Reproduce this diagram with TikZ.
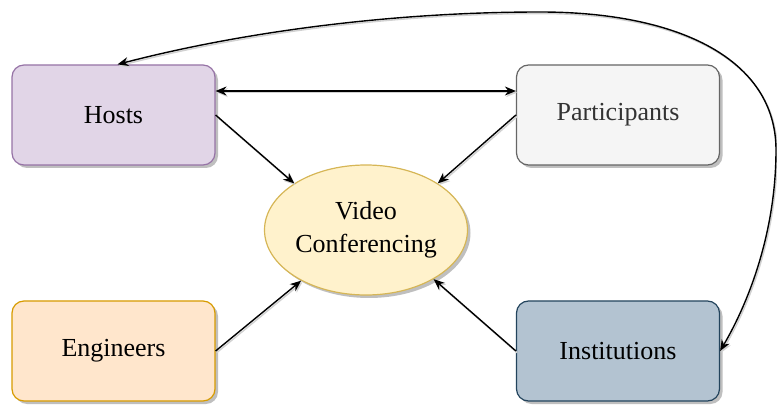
\documentclass[tikz,border=0pt]{standalone}
\usepackage{fontspec}
\setmainfont{Liberation Serif}
\usetikzlibrary{arrows.meta,shapes.geometric,shadows}
\definecolor{hostsF}{HTML}{E1D5E7}
\definecolor{hostsD}{HTML}{9673A6}
\definecolor{partF}{HTML}{F5F5F5}
\definecolor{partD}{HTML}{666666}
\definecolor{partT}{HTML}{333333}
\definecolor{engF}{HTML}{FFE6CC}
\definecolor{engD}{HTML}{D79B00}
\definecolor{instF}{HTML}{B3C3D1}
\definecolor{instD}{HTML}{23445D}
\definecolor{vcF}{HTML}{FFF2CC}
\definecolor{vcD}{HTML}{D6B656}
\begin{document}
\begin{tikzpicture}[x=1pt,y=-1pt,
  shade/.style={drop shadow={shadow xshift=3pt, shadow yshift=-3pt, opacity=0.25, fill=black}},
  box/.style={draw, rounded corners=12pt, line width=1.2pt, minimum width=203pt, minimum height=100pt,
    inner sep=0pt, font=\fontsize{26}{31}\selectfont, shade},
  vcnode/.style={ellipse, draw=vcD, fill=vcF, line width=1.2pt, minimum width=203pt, minimum height=130pt,
    inner sep=0pt, align=center, font=\fontsize{26}{33}\selectfont, shade},
  tip/.style={-{Stealth[length=11pt,width=9pt]}},
  both/.style={{Stealth[length=11pt,width=9pt]}-{Stealth[length=11pt,width=9pt]}},
  conn/.style={line width=1.4pt, preaction={draw=black!18, line width=1.4pt, transform canvas={shift={(1.2pt,-1.6pt)}}}}
]
\useasboundingbox (0,0) rectangle (777,406);

\node[box, draw=hostsD, fill=hostsF] (hosts) at (113.5,115) {Hosts};
\node[box, draw=partD, fill=partF, text=partT] (part) at (618,115) {Participants};
\node[box, draw=engD, fill=engF] (eng) at (113.5,351) {Engineers};
\node[box, draw=instD, fill=instF] (inst) at (618,351) {Institutions};
\node[vcnode] (vc) at (366,230) {Video\\Conferencing};

\draw[conn, both] ([yshift=24pt]hosts.east) -- ([yshift=24pt]part.west);
\draw[conn, tip] (hosts.east) -- (vc.147);
\draw[conn, tip] (part.west) -- (vc.33);
\draw[conn, tip] (eng.east) -- (vc.218);
\draw[conn, tip] (inst.west) -- (vc.324);

\draw[conn, both]
  ([xshift=4pt]hosts.north) .. controls (250,30) and (400,12) .. (540,12)
  .. controls (680,12) and (776,60) .. (776,150)
  .. controls (776,230) and (750,300) .. (inst.east);
\end{tikzpicture}
\end{document}
